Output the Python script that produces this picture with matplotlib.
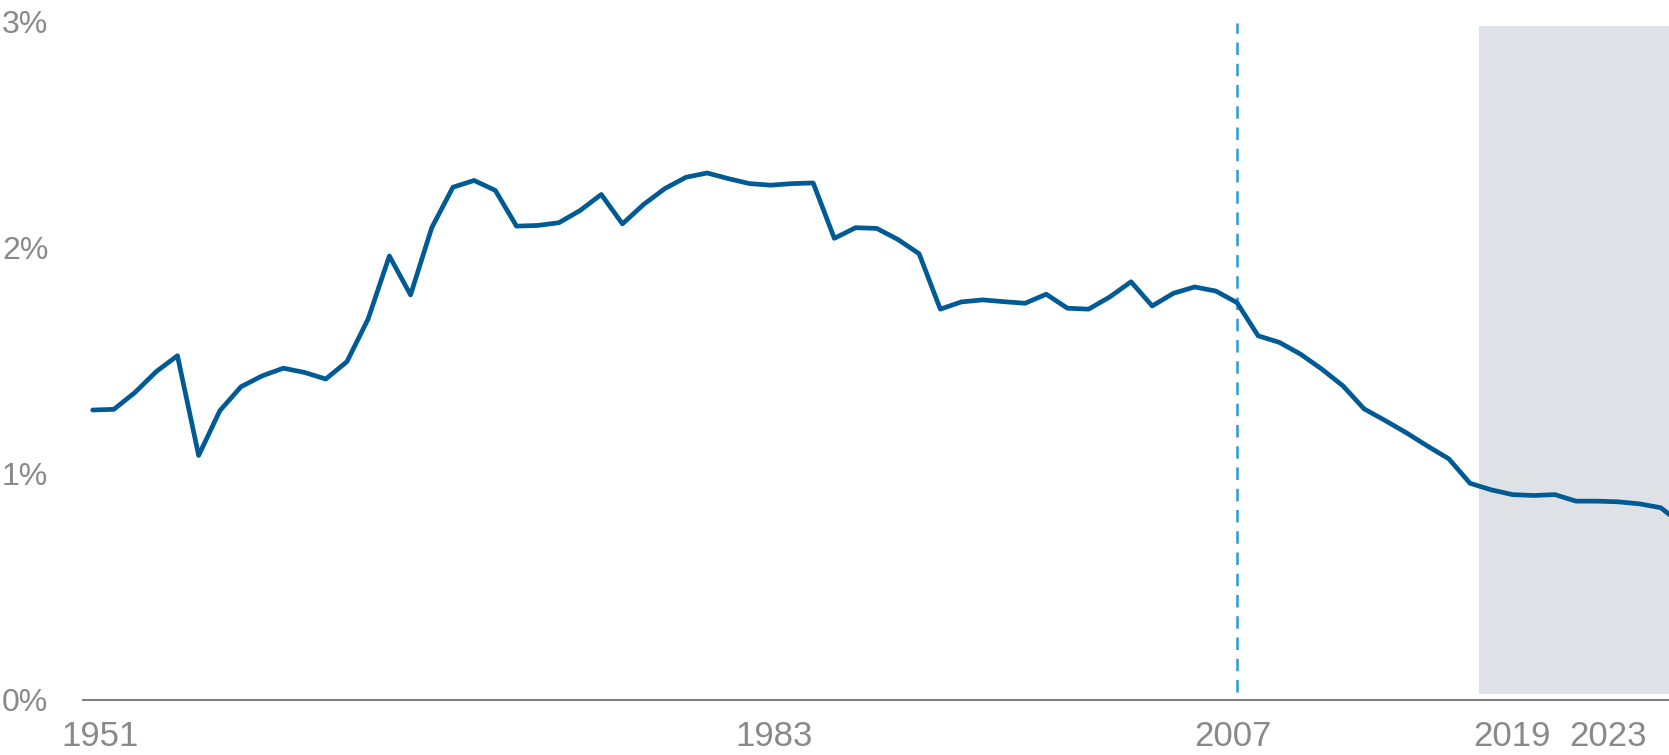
import numpy as np
import matplotlib
matplotlib.use("Agg")
import matplotlib.pyplot as plt

# Share (%) per period
share = [1.280, 1.283, 1.358, 1.450, 1.520, 1.079, 1.277, 1.383, 1.431, 1.465,
         1.446, 1.417, 1.494, 1.683, 1.961, 1.789, 2.086, 2.265, 2.295, 2.251,
         2.093, 2.096, 2.108, 2.162, 2.233, 2.103, 2.189, 2.259, 2.309, 2.328,
         2.303, 2.281, 2.274, 2.281, 2.284, 2.039, 2.086, 2.083, 2.034, 1.971,
         1.726, 1.758, 1.767, 1.759, 1.752, 1.792, 1.730, 1.726, 1.780, 1.847,
         1.740, 1.796, 1.824, 1.806, 1.755, 1.608, 1.579, 1.527, 1.461, 1.387,
         1.285, 1.233, 1.179, 1.120, 1.064, 0.956, 0.927, 0.906, 0.902, 0.906,
         0.877, 0.877, 0.874, 0.865, 0.848, 0.774]
period = np.arange(len(share))

tick_labels = ["1951", "1983", "2007", "2019", "2023"]
tick_pos = [0.37, 32.15, 53.8, 67.0, 71.5]
y_ticks = [0, 1, 2, 3]
y_tick_labels = ["0%", "1%", "2%", "3%"]

marker_period = 54          # dashed vertical line
shade_start = 65.4          # start of shaded region

W, H = 1669, 755
fig = plt.figure(figsize=(W / 100, H / 100), dpi=100)
left_px, right_px = 83, 1669
bottom_px, top_px = 699.5, 21
ax = fig.add_axes([left_px / W, 1 - bottom_px / H,
                   (right_px - left_px) / W, (bottom_px - top_px) / H])

xmin = -(92.7 - 83) / 21.19
xmax = (1669 - 92.7) / 21.19
ax.set_xlim(xmin, xmax)
ax.set_ylim(0, 3)

ax.axvspan(shade_start, xmax + 5, ymin=0.008, ymax=0.993, color="#dee2e7", lw=0, zorder=0)
ax.axvline(marker_period, ymin=0.011, ymax=0.997, color="#2a9bd6", lw=1.8,
           dashes=(5, 3.5), zorder=1)
ax.plot(period, share, color="#005b94", lw=3.4, solid_joinstyle="round",
        solid_capstyle="round", zorder=3)

for s in ["top", "right", "left"]:
    ax.spines[s].set_visible(False)
ax.spines["bottom"].set_color("#808080")
ax.spines["bottom"].set_linewidth(1.5)
ax.spines["bottom"].set_zorder(4)

font = ["Liberation Sans", "DejaVu Sans"]
ax.set_xticks(tick_pos)
ax.set_xticklabels(tick_labels, fontsize=25, color="#898989", family=font)
ax.set_yticks(y_ticks)
ax.set_yticklabels(y_tick_labels, fontsize=23, color="#898989", family=font)
ax.tick_params(axis="x", length=0, pad=15)
ax.tick_params(axis="y", length=0, pad=25)

fig.savefig("out.png", dpi=100)
